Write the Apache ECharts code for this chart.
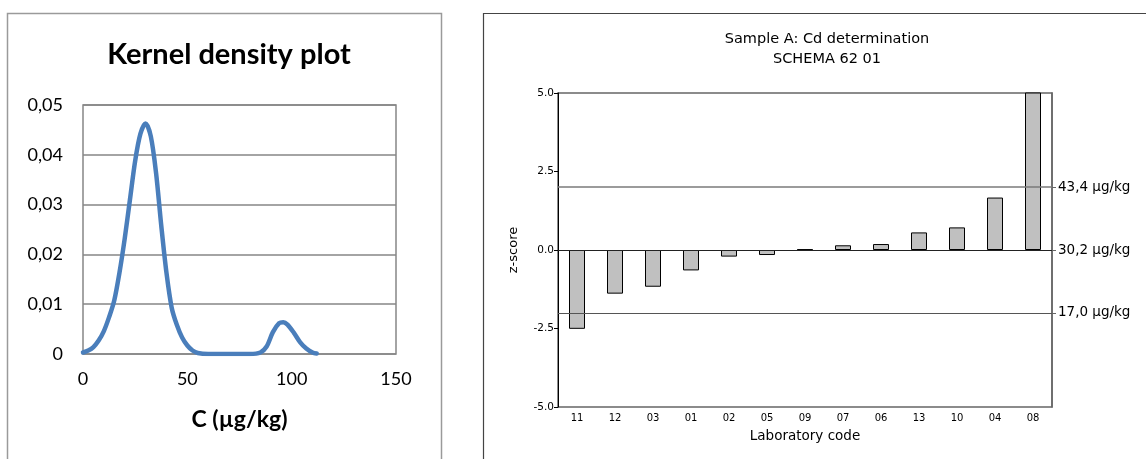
<!DOCTYPE html>
<html>
<head>
<meta charset="utf-8">
<script src="https://cdn.jsdelivr.net/npm/echarts@6/dist/echarts.min.js"></script>
<style>
  html, body { margin: 0; padding: 0; background: #fff; }
  #chart { width: 1146px; height: 459px; }
</style>
</head>
<body>
<div id="chart"></div>
<script>
// kernel density (left panel)
const kdeX = [0, 2.5, 5, 7.5, 10, 12.5, 15, 17.5, 20, 22.5, 25, 27.5, 30, 32.5, 35, 37.5, 40, 42.5, 45, 47.5, 50, 52.5, 55, 60, 70, 80, 85, 88, 91, 94, 96, 98, 101, 104, 107, 110, 112]
const kdeY = [0.0003, 0.0007, 0.0014, 0.0027, 0.0046, 0.0074, 0.0108, 0.0164, 0.0232, 0.0310, 0.0388, 0.0442, 0.0463, 0.0437, 0.0364, 0.0258, 0.0163, 0.0093, 0.0058, 0.0033, 0.0017, 0.0007, 0.0002, 0, 0, 0, 0.0003, 0.0015, 0.0044, 0.0062, 0.0064, 0.0059, 0.0043, 0.0024, 0.0011, 0.0003, 0.0001]

// z-scores (right panel)
const labCodes = ['11', '12', '03', '01', '02', '05', '09', '07', '06', '13', '10', '04', '08']
const zScores = [-2.51, -1.39, -1.17, -0.65, -0.21, -0.16, 0.02, 0.15, 0.19, 0.56, 0.72, 1.67, 7.0]
const refLevels = [-2, 0, 2]
const refLabels = ['17,0 µg/kg', '30,2 µg/kg', '43,4 µg/kg']
const refColors = ['#555', '#222', '#7a7a7a']
const refWidths = [1, 1, 1.6]

const chart = echarts.init(document.getElementById('chart'))

const leftFont = 'Lato, "Noto Sans", sans-serif'
const rightFont = '"DejaVu Sans", Verdana, sans-serif'

const option = {
    animation: false,
    backgroundColor: '#fff',
    title: [
        {
            text: 'Kernel density plot',
            left: 224,
            top: 35,
            textAlign: 'center',
            textStyle: { fontFamily: leftFont, fontSize: 29, fontWeight: 'bold', color: '#000' }
        },
        {
            text: 'Sample A: Cd determination\nSCHEMA 62 01',
            left: 822,
            top: 24,
            textAlign: 'center',
            textStyle: { fontFamily: rightFont, fontSize: 14.5, fontWeight: 'normal', color: '#000', lineHeight: 20 }
        }
    ],
    graphic: [
        {
            type: 'rect',
            shape: { x: 7.5, y: 13.5, width: 434, height: 470 },
            style: { fill: 'none', stroke: '#9a9a9a', lineWidth: 1.5 },
            silent: true
        },
        {
            type: 'rect',
            shape: { x: 483.5, y: 13.5, width: 700, height: 470 },
            style: { fill: 'none', stroke: '#444', lineWidth: 1.2 },
            silent: true
        }
    ],
    grid: [
        { left: 83, top: 105, width: 313, height: 249, show: true, borderColor: '#868686', borderWidth: 1.5, backgroundColor: 'transparent' },
        { left: 558, top: 93, width: 494, height: 314, show: true, borderColor: '#666', borderWidth: 1.5, backgroundColor: 'transparent' }
    ],
    xAxis: [
        {
            gridIndex: 0,
            type: 'value',
            min: 0,
            max: 150,
            interval: 50,
            axisLine: { show: false },
            axisTick: { show: false },
            splitLine: { show: false },
            axisLabel: { fontFamily: leftFont, fontSize: 18, color: '#000', margin: 16 },
            name: 'C (µg/kg)',
            nameLocation: 'middle',
            nameGap: 54,
            nameTextStyle: { fontFamily: leftFont, fontSize: 23, fontWeight: 'bold', color: '#000' }
        },
        {
            gridIndex: 1,
            type: 'category',
            data: labCodes,
            axisLine: { lineStyle: { color: '#000', width: 1 } },
            axisTick: { alignWithLabel: true, length: 4, lineStyle: { color: '#000' } },
            axisLabel: { fontFamily: rightFont, fontSize: 10, color: '#000', margin: 6 },
            name: 'Laboratory code',
            nameLocation: 'middle',
            nameGap: 22,
            nameTextStyle: { fontFamily: rightFont, fontSize: 13.5, color: '#000' }
        }
    ],
    yAxis: [
        {
            gridIndex: 0,
            type: 'value',
            min: 0,
            max: 0.05,
            interval: 0.01,
            axisLine: { show: false },
            axisTick: { show: false },
            splitLine: { show: true, lineStyle: { color: '#868686', width: 1.5 } },
            axisLabel: {
                fontFamily: leftFont, fontSize: 18, color: '#000', margin: 20,
                formatter: v => v === 0 ? '0' : v.toFixed(2).replace('.', ',')
            }
        },
        {
            gridIndex: 1,
            type: 'value',
            min: -5,
            max: 5,
            interval: 2.5,
            axisLine: { show: true, lineStyle: { color: '#000', width: 1 } },
            axisTick: { show: true, length: 4, lineStyle: { color: '#000' } },
            splitLine: { show: false },
            axisLabel: {
                fontFamily: rightFont, fontSize: 10.5, color: '#000', margin: 4,
                formatter: v => v.toFixed(1)
            },
            name: 'z-score',
            nameLocation: 'middle',
            nameGap: 38,
            nameTextStyle: { fontFamily: rightFont, fontSize: 13, color: '#000' }
        },
        {
            gridIndex: 1,
            type: 'value',
            position: 'right',
            min: -5,
            max: 5,
            interval: 2.5,
            axisLine: { show: true, lineStyle: { color: '#666', width: 1.5 } },
            axisTick: { show: true, length: 4, customValues: refLevels, lineStyle: { color: '#666' } },
            splitLine: { show: false },
            axisLabel: {
                fontFamily: rightFont, fontSize: 13.5, color: '#000', margin: 6,
                customValues: refLevels,
                formatter: v => refLabels[refLevels.indexOf(v)]
            }
        }
    ],
    series: [
        {
            type: 'line',
            xAxisIndex: 0,
            yAxisIndex: 0,
            data: kdeX.map((x, i) => [x, kdeY[i]]),
            smooth: 0.3,
            showSymbol: false,
            lineStyle: { color: '#4a7ebb', width: 4.5, cap: 'round' },
            z: 3
        },
        {
            // reference lines at z = -2, 0, 2 (drawn below the bars)
            type: 'line',
            xAxisIndex: 1,
            yAxisIndex: 1,
            data: [],
            z: 1,
            markLine: {
                silent: true,
                symbol: 'none',
                label: { show: false },
                data: refLevels.map((v, i) => ({
                    yAxis: v,
                    lineStyle: { color: refColors[i], width: refWidths[i], type: 'solid' }
                }))
            }
        },
        {
            type: 'bar',
            xAxisIndex: 1,
            yAxisIndex: 1,
            data: zScores,
            barWidth: 16,
            clip: true,
            itemStyle: { color: '#c0c0c0', borderColor: '#000', borderWidth: 1 },
            z: 3
        }
    ]
}

chart.setOption(option)
</script>
</body>
</html>
